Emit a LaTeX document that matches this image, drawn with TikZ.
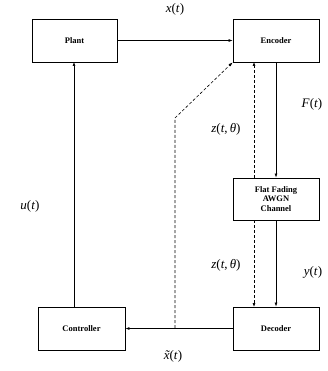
\documentclass[tikz,border=0pt]{standalone}
\usepackage{fontspec}
\setmainfont{Liberation Serif}
\usetikzlibrary{arrows.meta}
\begin{document}
\begin{tikzpicture}[x=1pt,y=-1pt,
  blk/.style={draw,line width=0.9pt,fill=white,font=\fontsize{8.5}{9.5}\selectfont\bfseries,align=center,inner sep=0pt},
  conn/.style={line width=0.6pt,-{Latex[length=4pt,width=3pt]}},
  dconn/.style={conn,dash pattern=on 3pt off 2pt},
  lbl/.style={font=\fontsize{13}{15}\selectfont}]
\useasboundingbox (0,0) rectangle (328,371);
\node[blk,minimum width=85pt,minimum height=43pt] (plant) at (74.5,40.5) {Plant};
\node[blk,minimum width=86pt,minimum height=43pt] (enc) at (276,40.5) {Encoder};
\node[blk,minimum width=86pt,minimum height=42pt] (chan) at (276,199) {Flat Fading\\AWGN\\Channel};
\node[blk,minimum width=86pt,minimum height=43pt] (dec) at (276,328.5) {Decoder};
\node[blk,minimum width=87pt,minimum height=43pt] (ctrl) at (81.5,328.5) {Controller};
\coordinate (j) at (175,328);
\coordinate (k) at (175,118);
% connectors
\draw[conn] (plant.east) -- (enc.west);
\draw[conn] (enc.south) -- (chan.north);
\draw[conn] (chan.south) -- (dec.north);
\draw[conn] (dec.west) -- (ctrl.east);
\draw[conn] (ctrl.north -| 74,0) -- (74,62) coordinate (pb);
\draw[dconn] (chan.north -| 254,0) -- (254,62);
\draw[dconn] (chan.south -| 254,0) -- (254,307);
\draw[dconn] (j) -- (k) -- (enc.south west);
% labels
\node[lbl] (lx) at (175,9) {\textit{x}(\textit{t})};
\node[lbl] (lf) at (312,104) {\textit{F}(\textit{t})};
\node[lbl] (lz1) at (226,129) {\textit{z}(\textit{t},\,\textit{θ})};
\node[lbl] (lu) at (30,206) {\textit{u}(\textit{t})};
\node[lbl] (lz2) at (226,265) {\textit{z}(\textit{t},\,\textit{θ})};
\node[lbl] (ly) at (313,272) {\textit{y}(\textit{t})};
\node[lbl] (lxt) at (173,356) {\rlap{\kern0.07em\textit{˜}}\textit{x}(\textit{t})};
\end{tikzpicture}
\end{document}
